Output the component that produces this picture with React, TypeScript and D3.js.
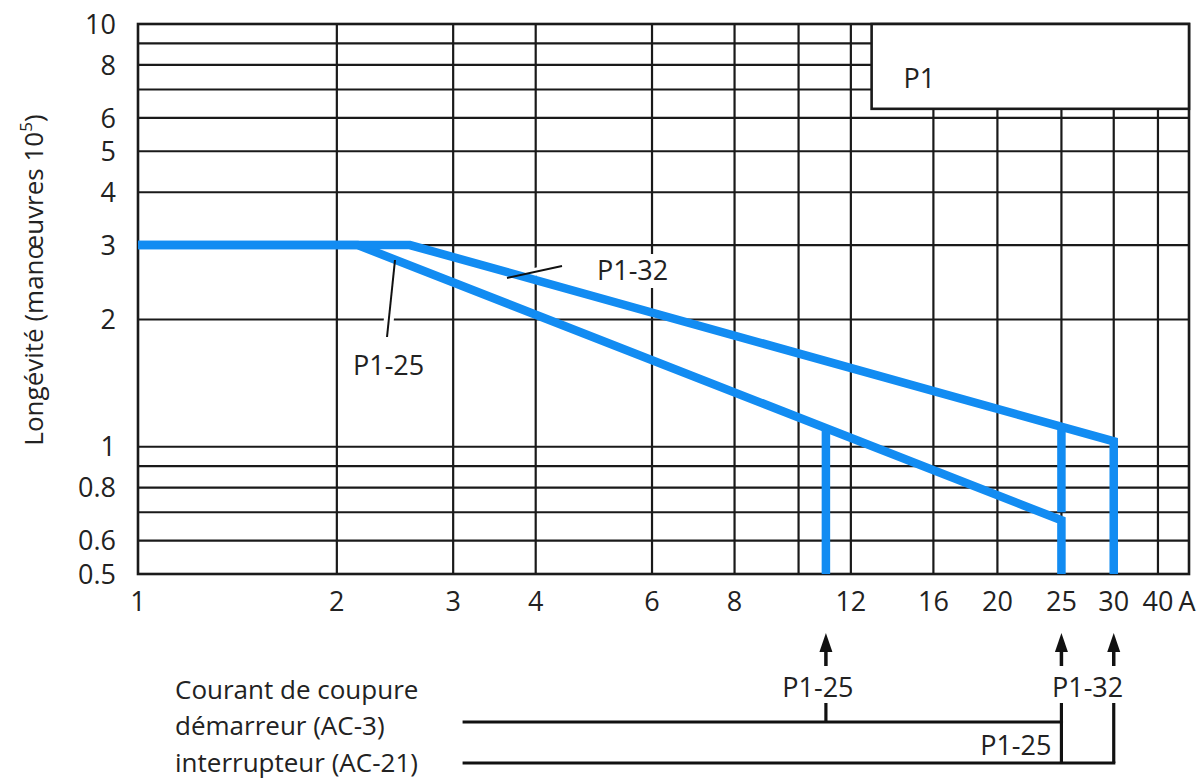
import React from "react";
import * as d3 from "d3";

// ---- data ----
const xGridValues = [2, 3, 4, 6, 8, 10, 12, 16, 20, 25, 30, 35];
const xTickValues = [1, 2, 3, 4, 6, 8, 12, 16, 20, 25, 30, 35];
const xTickLabels = ["1", "2", "3", "4", "6", "8", "12", "16", "20", "25", "30", "40"];
const yGridValues = [0.6, 0.7, 0.8, 0.9, 1, 2, 3, 4, 5, 6, 7, 8, 9];
const yTickValues = [0.5, 0.6, 0.8, 1, 2, 3, 4, 5, 6, 8, 10];
const yTickLabels = ["0.5", "0.6", "0.8", "1", "2", "3", "4", "5", "6", "8", "10"];

// endurance curves (current A, operations x10^5)
const p125Curve: [number, number][] = [[1, 3], [2.15, 3], [25, 0.67], [25, 0.5]];
const p125Ac3Limit: [number, number][] = [[11, 1.1], [11, 0.5]];
const p132Curve: [number, number][] = [[1, 3], [2.58, 3], [30, 1.03], [30, 0.5]];
const p132Ac3Limit: [number, number][] = [[25, 1.115], [25, 0.7]];

// breaking currents
const ac3Currents = [11, 25]; // P1-25, P1-32
const ac21Currents = [25, 30]; // P1-25, P1-32
const diagramStart = 3.1;

const W = 1198;
const H = 784;
const FONT = "'Open Sans', 'DejaVu Sans', sans-serif";
const BLUE = "#128cf2";
const GRID = "#1a1a1a";

export default function App() {
  const x = d3.scaleLog().domain([1, 39]).range([138, 1189]);
  const y = d3.scaleLog().domain([0.5, 10]).range([574, 24]);
  const line = d3
    .line<[number, number]>()
    .x((d) => x(d[0]))
    .y((d) => y(d[1]));

  const x0 = x(1);
  const x1 = x(39);
  const y0 = y(0.5);
  const y1 = y(10);

  // P1 box
  const boxX = x(12.9);
  const boxY = y(10);
  const boxW = x(39) - boxX;
  const boxH = y(6.3) - boxY;

  const yAc3 = 722;
  const yAc21 = 763;
  const yTickTop = 703;
  const arrowTip = 633;
  const arrowBase = 652;
  const arrowShaftEnd = 666;

  const arrows = [ac3Currents[0], ac3Currents[1], ac21Currents[1]];

  return (
    <svg
      width={W}
      height={H}
      viewBox={`0 0 ${W} ${H}`}
      style={{ position: "absolute", left: 0, top: 0, display: "block", background: "#fff" }}
      fontFamily={FONT}
    >
      <rect x={0} y={0} width={W} height={H} fill="#fff" />

      {/* grid */}
      <g stroke={GRID} strokeWidth={2.2}>
        {yGridValues.map((v) => (
          <line key={"gy" + v} x1={x0} x2={x1} y1={y(v)} y2={y(v)} />
        ))}
        {xGridValues.map((v) => (
          <line key={"gx" + v} x1={x(v)} x2={x(v)} y1={y1} y2={y0} />
        ))}
        <rect x={x0} y={y1} width={x1 - x0} height={y0 - y1} fill="none" strokeWidth={2.6} />
      </g>

      {/* P1 box */}
      <rect x={boxX} y={boxY} width={boxW} height={boxH} fill="#fff" stroke={GRID} strokeWidth={2.6} />
      <text x={boxX + 32} y={boxY + 64} fontSize={27} fill="#222">P1</text>

      {/* annotation halos + labels */}
      <rect x={594} y={254} width={80} height={34} fill="#fff" />
      <line x1={507} y1={278} x2={562} y2={266} stroke="#fff" strokeWidth={8} />
      <line x1={395} y1={260} x2={387} y2={337} stroke="#fff" strokeWidth={10} />

      {/* curves */}
      <g fill="none" stroke={BLUE} strokeWidth={8.5} strokeLinejoin="miter">
        <path d={line(p125Curve) || ""} />
        <path d={line(p132Curve) || ""} />
        <path d={line(p125Ac3Limit) || ""} />
        <path d={line(p132Ac3Limit) || ""} />
      </g>

      <g stroke="#111" strokeWidth={2}>
        <line x1={507} y1={278} x2={562} y2={266} />
        <line x1={395} y1={260} x2={387} y2={337} />
      </g>
      <text x={597} y={280} fontSize={27} fill="#222">P1-32</text>
      <text x={353} y={375} fontSize={27} fill="#222">P1-25</text>

      {/* axis labels */}
      <g fontSize={27} fill="#222">
        {yTickValues.map((v, i) => (
          <text key={"ty" + v} x={116} y={y(v)} dy="0.36em" textAnchor="end">
            {yTickLabels[i]}
          </text>
        ))}
        {xTickValues.map((v, i) => (
          <text key={"tx" + v} x={x(v)} y={611} textAnchor="middle">
            {xTickLabels[i]}
          </text>
        ))}
        <text x={x1 - 2} y={611} textAnchor="middle">A</text>
      </g>

      <text
        transform={`translate(43, 280) rotate(-90)`}
        textAnchor="middle"
        fontSize={26}
        fill="#222"
      >
        Longévité (manœuvres 10
        <tspan fontSize={17} dy={-11}>5</tspan>
        <tspan dy={11}>)</tspan>
      </text>

      {/* breaking current diagram */}
      <g fill="#222" fontSize={26}>
        <text x={175} y={699}>Courant de coupure</text>
        <text x={175} y={735}>démarreur (AC-3)</text>
        <text x={175} y={772}>interrupteur (AC-21)</text>
      </g>

      <g stroke="#111" strokeWidth={3.2} fill="none">
        <line x1={x(diagramStart)} x2={x(ac3Currents[1]) + 1.6} y1={yAc3} y2={yAc3} />
        <line x1={x(diagramStart)} x2={x(ac21Currents[1]) + 1.6} y1={yAc21} y2={yAc21} />
        {ac3Currents.map((c) => (
          <line key={"t3" + c} x1={x(c)} x2={x(c)} y1={yTickTop} y2={yAc3} />
        ))}
        <line x1={x(ac21Currents[0])} x2={x(ac21Currents[0])} y1={yAc3} y2={yAc21} />
        <line x1={x(ac21Currents[1])} x2={x(ac21Currents[1])} y1={yTickTop} y2={yAc21} />
        {arrows.map((c) => (
          <line key={"as" + c} x1={x(c)} x2={x(c)} y1={arrowBase - 2} y2={arrowShaftEnd} strokeWidth={3.5} />
        ))}
      </g>
      <g fill="#111">
        {arrows.map((c) => (
          <path
            key={"ah" + c}
            d={`M${x(c)},${arrowTip} L${x(c) - 6.5},${arrowBase} L${x(c) + 6.5},${arrowBase} Z`}
          />
        ))}
      </g>
      <g fill="#222" fontSize={27}>
        <text x={x(ac3Currents[0]) - 8} y={697} textAnchor="middle">P1-25</text>
        <text x={(x(ac3Currents[1]) + x(ac21Currents[1])) / 2} y={697} textAnchor="middle">P1-32</text>
        <text x={x(ac21Currents[0]) - 10} y={755} textAnchor="end">P1-25</text>
      </g>
    </svg>
  );
}
